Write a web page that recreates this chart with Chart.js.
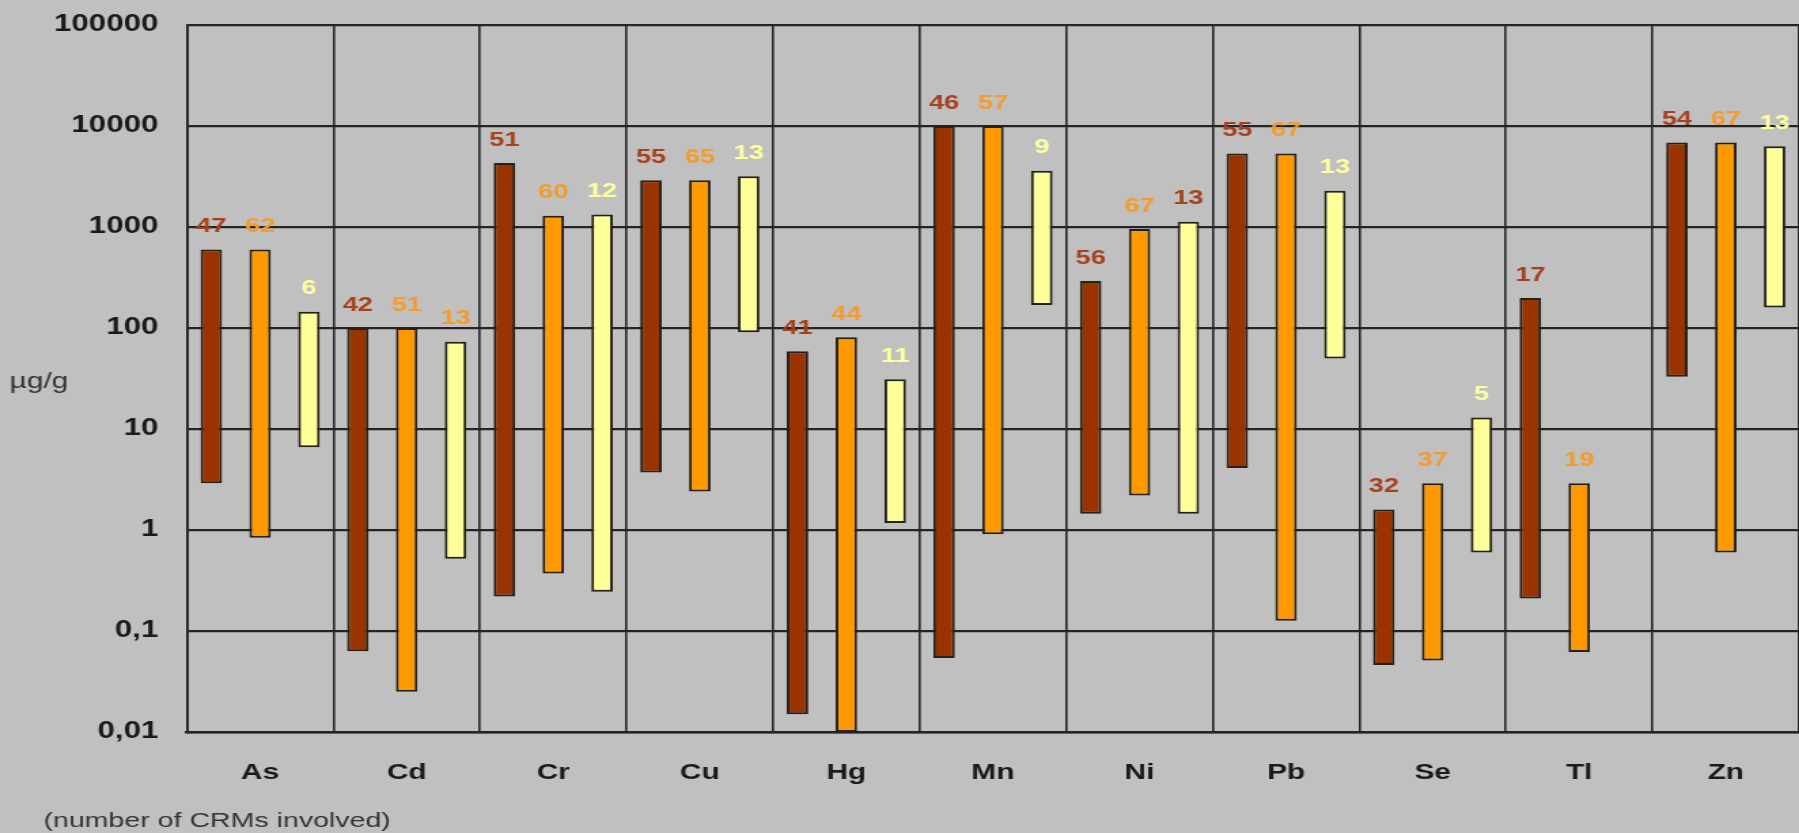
<!DOCTYPE html>
<html>
<head>
<meta charset="utf-8">
<script src="https://cdn.jsdelivr.net/npm/chart.js@4.4.1/dist/chart.umd.min.js"></script>
<style>
  html, body { margin: 0; padding: 0; background: #c0c0c0; overflow: hidden; width: 1799px; height: 833px; }
  /* the whole chart is drawn narrow and stretched sideways */
  #chart { display: block; transform-origin: 0 0; transform: scaleX(1.3588); }
</style>
</head>
<body>
<canvas id="chart" width="1324" height="833"></canvas>
<script>
// Elements on the category axis
const elements = ['As', 'Cd', 'Cr', 'Cu', 'Hg', 'Mn', 'Ni', 'Pb', 'Se', 'Tl', 'Zn'];

// Range of certified values (µg/g), first group
const lowA  = [2.9, 0.063, 0.22, 3.7, 0.015, 0.054, 1.45, 4.1, 0.046, 0.21, 33];
const highA = [600, 100, 4300, 2900, 59, 10000, 292, 5350, 1.6, 198, 6850];
// second group
const lowB  = [0.84, 0.025, 0.37, 2.4, 0.01, 0.91, 2.2, 0.126, 0.051, 0.062, 0.6];
const highB = [600, 100, 1290, 2900, 81, 10000, 955, 5350, 2.9, 2.9, 6850];
// third group (no Tl materials)
const lowC  = [6.6, 0.52, 0.245, 91, 1.17, 169, 1.45, 50, 0.6, null, 160];
const highC = [145, 73, 1330, 3180, 31, 3600, 1130, 2290, 13, null, 6300];

// Number of CRMs involved, printed above each bar
const countA = [47, 42, 51, 55, 41, 46, 56, 55, 32, 17, 54];
const countB = [62, 51, 60, 65, 44, 57, 67, 67, 37, 19, 67];
const countC = [6, 13, 12, 13, 11, 9, 13, 13, 5, null, 13];

// Logarithmic axis ticks
const yTickValues = [0.01, 0.1, 1, 10, 100, 1000, 10000, 100000];
const yTickLabels = ['0,01', '0,1', '1', '10', '100', '1000', '10000', '100000'];

// Colours of the count labels
const RED_TXT = '#a5411c', ORG_TXT = '#f39b2c', YEL_TXT = '#ffff9e';
const labelColorsA = elements.map(() => RED_TXT);
const labelColorsB = elements.map(() => ORG_TXT);
const labelColorsC = [YEL_TXT, ORG_TXT, YEL_TXT, YEL_TXT, YEL_TXT, YEL_TXT, RED_TXT, YEL_TXT, YEL_TXT, YEL_TXT, YEL_TXT];

const pairs = (lo, hi) => lo.map((v, i) => (v == null || hi[i] == null) ? null : [v, hi[i]]);

const FONT = "'Liberation Sans', Arial, sans-serif";
const LINE = '#242424';

const countLabels = {
  id: 'countLabels',
  afterDatasetsDraw(chart) {
    const ctx = chart.ctx;
    const y = chart.scales.y;
    ctx.save();
    ctx.font = 'bold 20px ' + FONT;
    ctx.textAlign = 'center';
    ctx.textBaseline = 'middle';
    chart.data.datasets.forEach((ds, di) => {
      const meta = chart.getDatasetMeta(di);
      meta.data.forEach((bar, i) => {
        const v = ds.data[i];
        const n = ds.counts[i];
        if (!v || n == null) return;
        const top = y.getPixelForValue(Math.max(v[0], v[1]));
        ctx.fillStyle = ds.countColors[i];
        ctx.fillText(String(n), bar.x, top - 23);
      });
    });
    ctx.restore();
  },
  afterDraw(chart) {
    const ctx = chart.ctx;
    ctx.save();
    ctx.fillStyle = '#333333';
    ctx.textAlign = 'left';
    ctx.textBaseline = 'middle';
    ctx.font = '22px ' + FONT;
    ctx.fillText('µg/g', 7, 382);
    ctx.font = '21px ' + FONT;
    ctx.fillText('(number of CRMs involved)', 32, 821);
    ctx.restore();
  }
};

const barStyle = {
  borderColor: '#262016',
  borderWidth: 2,
  borderSkipped: false,
  barPercentage: 0.44,
  categoryPercentage: 1.0
};

new Chart(document.getElementById('chart'), {
  type: 'bar',
  data: {
    labels: elements,
    datasets: [
      Object.assign({ label: 'A', data: pairs(lowA, highA), backgroundColor: '#993300',
        counts: countA, countColors: labelColorsA }, barStyle),
      Object.assign({ label: 'B', data: pairs(lowB, highB), backgroundColor: '#ff9900',
        counts: countB, countColors: labelColorsB }, barStyle),
      Object.assign({ label: 'C', data: pairs(lowC, highC), backgroundColor: '#ffff99',
        counts: countC, countColors: labelColorsC }, barStyle)
    ]
  },
  options: {
    responsive: false,
    animation: false,
    devicePixelRatio: 1,
    layout: { padding: { top: 25, left: 0, right: 0, bottom: 0 } },
    plugins: { legend: { display: false }, tooltip: { enabled: false } },
    scales: {
      x: {
        type: 'category',
        offset: true,
        afterFit: s => { s.height = 101; },
        grid: { offset: true, color: LINE, lineWidth: 1.6, drawTicks: false },
        border: { display: true, color: LINE, width: 2.5 },
        ticks: { color: '#1a1a1a', font: { family: FONT, size: 22, weight: 'bold' },
                 padding: 28, maxRotation: 0, autoSkip: false }
      },
      y: {
        type: 'logarithmic',
        min: 0.01,
        max: 100000,
        afterFit: s => { s.width = 137.5; },
        afterBuildTicks: s => { s.ticks = yTickValues.map(v => ({ value: v })); },
        grid: { color: LINE, lineWidth: 2.2, drawTicks: true, tickLength: 21, tickColor: 'rgba(0,0,0,0)' },
        border: { display: true, color: LINE, width: 1.8 },
        ticks: {
          color: '#1a1a1a',
          font: { family: FONT, size: 23, weight: 'bold' },
          padding: 0,
          callback: v => yTickLabels[yTickValues.indexOf(v)]
        }
      }
    }
  },
  plugins: [countLabels]
});
</script>
</body>
</html>
